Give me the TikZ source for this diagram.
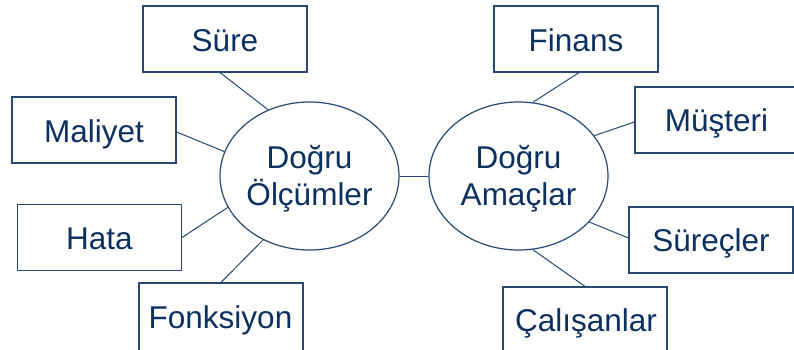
\documentclass[tikz,border=0pt]{standalone}
\usepackage{fontspec}
\setmainfont{Liberation Sans}
\usetikzlibrary{shapes.geometric}
\definecolor{txt}{RGB}{12,48,96}
\definecolor{edge}{RGB}{38,72,115}
\begin{document}
\begin{tikzpicture}[x=1pt,y=-1pt,
  lbl/.style={text=txt,font=\fontsize{31.5}{37.8}\selectfont,anchor=base,inner sep=0pt},
  itembox/.style={draw=edge,line width=1.2pt,rectangle,minimum width=164pt,minimum height=66pt,inner sep=0pt},
  hub/.style={draw=edge,line width=1.2pt,ellipse,minimum width=179pt,minimum height=148pt,inner sep=0pt},
  link/.style={draw=edge,line width=1pt}]
\clip (0,0) rectangle (794,350);
\fill[white] (0,0) rectangle (794,350);
% hubs
\node[hub] (L) at (309.5,176) {};
\node[lbl] (L1) at (309.5,168.3) {Doğru};
\node[lbl] (L2) at (309.5,205.3) {Ölçümler};
\node[hub] (R) at (518.5,176) {};
\node[lbl] (R1) at (518.5,168.3) {Doğru};
\node[lbl] (R2) at (518.5,205.3) {Amaçlar};
% left items
\node[itembox] (sure) at (225,39) {};
\node[lbl] at (225,51.7) {Süre};
\node[itembox] (mal) at (94,130) {};
\node[lbl] at (94,142.7) {Maliyet};
\node[itembox] (hata) at (99.5,237.5) {};
\node[lbl] at (99.5,249.7) {Hata};
\node[itembox,minimum height=74pt] (fonk) at (221,320) {};
\node[lbl] at (220.5,328.3) {Fonksiyon};
% right items
\node[itembox] (fin) at (576,39) {};
\node[lbl] at (576,51.7) {Finans};
\node[itembox,minimum width=170pt] (mus) at (720,120) {};
\node[lbl] at (716.5,131.7) {Müşteri};
\node[itembox] (surec) at (711,240) {};
\node[lbl] at (711,251.7) {Süreçler};
\node[itembox,minimum height=74pt] (cal) at (585,324) {};
\node[lbl] at (586,331.7) {Çalışanlar};
% connectors
\draw[link] ([xshift=-5pt]sure.south) -- (L.122);
\draw[link] ([yshift=-2pt]mal.east) -- (L.164);
\draw[link] (hata.east) -- (L.201);
\draw[link] (fonk.north) -- (L.234);
\draw[link] (L.east) -- (R.west);
\draw[link] ([xshift=3pt]fin.south) -- (R.79);
\draw[link] ([yshift=-2pt]mus.west) -- (R.28);
\draw[link] ([yshift=2pt]surec.west) -- (R.-33);
\draw[link] (cal.north) -- (R.-79);
\end{tikzpicture}
\end{document}
